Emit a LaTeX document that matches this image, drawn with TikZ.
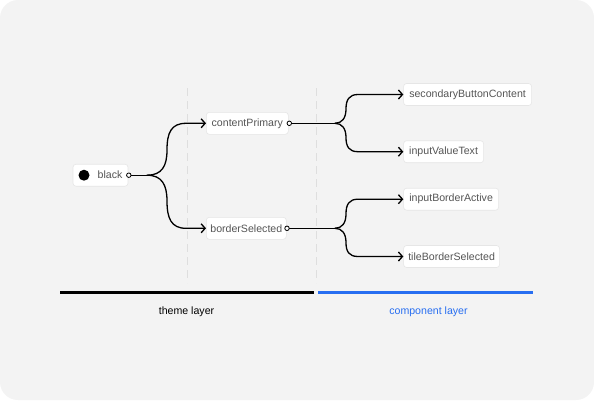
\documentclass[tikz,border=0pt]{standalone}
\usepackage{fontspec}
\setmainfont{Liberation Sans}
\usetikzlibrary{arrows.meta}
\definecolor{bgc}{HTML}{F3F3F3}
\definecolor{boxline}{HTML}{E6E6E6}
\definecolor{txtc}{HTML}{555555}
\definecolor{dashc}{HTML}{DEDEDE}
\definecolor{bluec}{HTML}{276EF1}
\tikzset{
  tok/.style={draw=boxline, line width=0.6pt, fill=white, rounded corners=3pt,
    minimum height=22pt, inner sep=0pt, anchor=west, text=txtc,
    font=\fontsize{10.6}{12}\selectfont},
  lbl/.style={inner sep=0pt, text=txtc, font=\fontsize{10.6}{12}\selectfont},
  port/.style={circle, draw=black, fill=white, line width=0.8pt, minimum size=4.5pt, inner sep=0pt},
  link/.style={draw=black, line width=1.3pt, line cap=round},
  arr/.style={link, -{Straight Barb[length=4pt,width=9pt,line width=1.3pt]}},
  guide/.style={draw=dashc, line width=0.9pt, dash pattern=on 8pt off 5pt},
  layer/.style={inner sep=0pt, font=\fontsize{10.6}{12}\selectfont}
}
\begin{document}
\begin{tikzpicture}[x=1pt,y=-1pt]
\useasboundingbox (0,0) rectangle (594,400);
\fill[white] (0,0) rectangle (594,400);
\fill[bgc, rounded corners=18pt] (0,0) rectangle (594,400);

% guides
\coordinate (g1t) at (187,88); \coordinate (g1b) at (187,283);
\coordinate (g2t) at (316,88); \coordinate (g2b) at (316,283);
\draw[guide] (g1t) -- (g1b);
\draw[guide] (g2t) -- (g2b);

% nodes
\node[tok, minimum width=55pt] (black) at (72.7,175.2) {};
\node[circle, fill=black, minimum size=11pt, inner sep=0pt] (dot) at (84,175.2) {};
\node[lbl] (blacktxt) at (110,175.2) {black};

\node[tok, minimum width=82pt] (cp) at (206,123.3) {contentPrimary};
\node[tok, minimum width=80pt] (bs) at (206,228.3) {borderSelected};

\node[tok, minimum width=128pt] (sbc) at (403.3,94.5) {secondaryButtonContent};
\node[tok, minimum width=80pt] (ivt) at (403.3,151.7) {inputValueText};
\node[tok, minimum width=95pt] (iba) at (403.3,199.2) {inputBorderActive};
\node[tok, minimum width=96pt] (tbs) at (403.3,256.5) {tileBorderSelected};

% ports
\node[port] (p0) at (128.8,175.2) {};
\node[port] (p1) at (289.3,123.3) {};
\node[port] (p2) at (287,228.3) {};

% forks
\coordinate (f0) at (147,175.2);
\coordinate (f1) at (335,123.3);
\coordinate (f2) at (335,228.3);

\draw[link] (p0.east) -- (f0);
\draw[arr] (f0) .. controls (162,175.2) and (167,166) .. (167,150)
  .. controls (167,133) and (171,123.3) .. (186,123.3) -- (cp.west);
\draw[arr] (f0) .. controls (162,175.2) and (167,185) .. (167,201)
  .. controls (167,218) and (171,228.3) .. (186,228.3) -- (bs.west);

\draw[link] (p1.east) -- (f1);
\draw[arr] (f1) .. controls (342,123.3) and (346,118) .. (346,109)
  .. controls (346,100) and (349,94.5) .. (358,94.5) -- (sbc.west);
\draw[arr] (f1) .. controls (342,123.3) and (346,128.5) .. (346,137.5)
  .. controls (346,146.5) and (349,151.7) .. (358,151.7) -- (ivt.west);

\draw[link] (p2.east) -- (f2);
\draw[arr] (f2) .. controls (342,228.3) and (346,223) .. (346,214)
  .. controls (346,204.5) and (349,199.2) .. (358,199.2) -- (iba.west);
\draw[arr] (f2) .. controls (342,228.3) and (346,233.5) .. (346,242.5)
  .. controls (346,251.5) and (349,256.5) .. (358,256.5) -- (tbs.west);

% layers
\coordinate (ta) at (60,292.5); \coordinate (tb) at (313.5,292.5);
\coordinate (ca) at (318,292.5); \coordinate (cb) at (533,292.5);
\draw[black, line width=2.2pt] (ta) -- (tb);
\draw[bluec, line width=2.2pt] (ca) -- (cb);
\node[layer, text=black] (theme) at (186.5,311.5) {theme layer};
\node[layer, text=bluec] (comp) at (428.5,311.5) {component layer};
\end{tikzpicture}
\end{document}
